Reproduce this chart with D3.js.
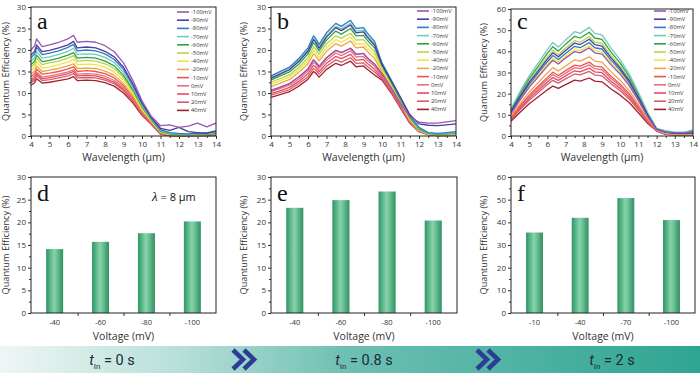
<!DOCTYPE html>
<html>
<head>
<meta charset="utf-8">
<script src="https://cdn.jsdelivr.net/npm/d3@7"></script>
<style>
  body { margin: 0; background: #fff; }
</style>
</head>
<body>
<svg id="chart" width="700" height="377"></svg>
<script>
// bias voltages and the colour of each curve (same order in a, b, c)
const voltages = ["-100mV", "-90mV", "-80mV", "-70mV", "-60mV", "-50mV", "-40mV", "-20mV", "-10mV", "0mV", "10mV", "20mV", "40mV"];
const lineColors = ["#9a55b4", "#4b3d9e", "#2c7cc0", "#6fcac2", "#33a23c", "#b4d450", "#f4e43a", "#f0a44a", "#ea5656", "#e6707c", "#e84a60", "#d1606c", "#a3222e"];

// panel a, t = 0 s
const aWave = [4, 4.2, 4.3, 4.6, 5, 5.5, 6, 6.3, 6.5, 7, 7.5, 8, 8.5, 9, 9.5, 10, 10.5, 11, 11.5, 12, 12.5, 13, 13.5, 14];
const aVals = [
    [20.0, 21.0, 22.6, 20.8, 21.2, 21.8, 22.6, 23.4, 21.8, 22.0, 21.8, 21.0, 19.6, 17.0, 13.0, 8.2, 4.6, 2.4, 2.6, 2.0, 2.3, 3.0, 2.1, 3.0],
    [18.8, 19.7, 21.2, 19.6, 19.9, 20.5, 21.2, 22.0, 20.5, 20.7, 20.5, 19.7, 18.4, 16.0, 12.2, 7.7, 4.3, 1.8, 1.3, 2.0, 1.0, 0.8, 0.7, 1.2],
    [18.2, 19.1, 20.6, 18.9, 19.3, 19.8, 20.6, 21.3, 19.8, 20.0, 19.8, 19.1, 17.8, 15.5, 11.8, 7.5, 4.2, 1.5, 0.8, 0.6, 0.5, 0.7, 0.6, 1.0],
    [17.4, 18.3, 19.7, 18.1, 18.4, 19.0, 19.7, 20.4, 19.0, 19.1, 19.0, 18.3, 17.1, 14.8, 11.3, 7.1, 4.0, 1.3, 0.6, 0.5, 0.4, 0.5, 0.5, 0.8],
    [16.6, 17.4, 18.8, 17.3, 17.6, 18.1, 18.8, 19.4, 18.1, 18.3, 18.1, 17.4, 16.3, 14.1, 10.8, 6.8, 3.8, 1.1, 0.5, 0.4, 0.3, 0.4, 0.4, 0.6],
    [16.0, 16.8, 18.1, 16.6, 17.0, 17.4, 18.1, 18.7, 17.4, 17.6, 17.4, 16.8, 15.7, 13.6, 10.4, 6.6, 3.7, 1.0, 0.4, 0.3, 0.3, 0.3, 0.3, 0.5],
    [15.2, 16.0, 17.2, 15.8, 16.1, 16.6, 17.2, 17.8, 16.6, 16.7, 16.6, 16.0, 14.9, 12.9, 9.9, 6.2, 3.5, 0.9, 0.3, 0.3, 0.2, 0.3, 0.4, 0.9],
    [14.4, 15.1, 16.3, 15.0, 15.3, 15.7, 16.3, 16.8, 15.7, 15.8, 15.7, 15.1, 14.1, 12.2, 9.4, 5.9, 3.3, 0.8, 0.3, 0.2, 0.2, 0.2, 0.3, 0.7],
    [13.8, 14.5, 15.6, 14.4, 14.6, 15.0, 15.6, 16.1, 15.0, 15.2, 15.0, 14.5, 13.5, 11.7, 9.0, 5.7, 3.2, 0.7, 0.2, 0.2, 0.1, 0.2, 0.2, 0.4],
    [13.2, 13.9, 14.9, 13.7, 14.0, 14.4, 14.9, 15.4, 14.4, 14.5, 14.4, 13.9, 12.9, 11.2, 8.6, 5.4, 3.0, 0.6, 0.2, 0.1, 0.1, 0.1, 0.2, 0.3],
    [12.8, 13.4, 14.5, 13.3, 13.6, 14.0, 14.5, 15.0, 14.0, 14.1, 14.0, 13.4, 12.5, 10.9, 8.3, 5.2, 2.9, 0.5, 0.1, 0.1, 0.1, 0.1, 0.1, 0.2],
    [12.4, 13.0, 14.0, 12.9, 13.1, 13.5, 14.0, 14.5, 13.5, 13.6, 13.5, 13.0, 12.2, 10.5, 8.1, 5.1, 2.9, 0.5, 0.1, 0.1, 0.1, 0.1, 0.1, 0.2],
    [11.8, 12.4, 13.3, 12.3, 12.5, 12.9, 13.3, 13.8, 12.9, 13.0, 12.9, 12.4, 11.6, 10.0, 7.7, 4.8, 2.7, 0.4, 0.1, 0.0, 0.0, 0.1, 0.1, 0.1]
];

// panel b, t = 0.8 s
const bWave = [4, 4.4, 5, 5.5, 6, 6.3, 6.4, 6.6, 7, 7.5, 7.8, 8.3, 8.6, 9, 9.2, 9.6, 10, 10.5, 11, 11.5, 12, 12.5, 13, 13.5, 14];
const bVals = [
    [10.6, 11.2, 12.2, 13.7, 15.6, 17.7, 17.3, 16.2, 18.2, 19.9, 19.4, 20.4, 19.0, 19.2, 18.2, 16.7, 14.5, 11.2, 7.6, 4.5, 3.2, 3.0, 3.0, 3.3, 3.6],
    [13.4, 14.2, 15.4, 17.3, 19.7, 22.4, 21.9, 20.4, 23.0, 25.2, 24.5, 25.8, 24.0, 24.2, 23.0, 21.1, 16.6, 12.8, 8.9, 5.0, 2.8, 2.5, 2.4, 2.6, 2.8],
    [14.0, 14.8, 16.0, 18.0, 20.5, 23.3, 22.8, 21.3, 24.0, 26.2, 25.5, 26.9, 25.0, 25.2, 24.0, 22.0, 17.0, 13.0, 9.0, 4.8, 2.0, 0.8, 0.6, 0.8, 1.0],
    [13.7, 14.4, 15.6, 17.6, 20.0, 22.7, 22.2, 20.8, 23.4, 25.5, 24.9, 26.2, 24.4, 24.6, 23.4, 21.5, 16.8, 12.9, 8.8, 4.6, 1.8, 0.7, 0.5, 0.6, 0.8],
    [13.0, 13.8, 14.9, 16.7, 19.1, 21.7, 21.2, 19.8, 22.3, 24.4, 23.7, 25.0, 23.3, 23.4, 22.3, 20.5, 16.4, 12.5, 8.5, 4.3, 1.6, 0.6, 0.4, 0.5, 0.6],
    [12.5, 13.2, 14.2, 16.0, 18.2, 20.7, 20.3, 19.0, 21.4, 23.3, 22.7, 23.9, 22.3, 22.4, 21.4, 19.6, 15.9, 12.1, 8.2, 4.1, 1.5, 0.5, 0.3, 0.4, 0.5],
    [12.0, 12.7, 13.7, 15.4, 17.5, 19.9, 19.5, 18.2, 20.5, 22.4, 21.8, 23.0, 21.4, 21.5, 20.5, 18.8, 15.4, 11.8, 7.9, 3.9, 1.4, 0.5, 0.3, 0.3, 0.4],
    [11.5, 12.1, 13.1, 14.8, 16.8, 19.1, 18.7, 17.5, 19.7, 21.5, 20.9, 22.1, 20.5, 20.7, 19.7, 18.0, 14.9, 11.4, 7.6, 3.7, 1.3, 0.4, 0.2, 0.3, 0.3],
    [10.6, 11.2, 12.2, 13.7, 15.6, 17.7, 17.3, 16.2, 18.2, 19.9, 19.4, 20.4, 19.0, 19.2, 18.2, 16.7, 14.3, 11.0, 7.3, 3.5, 1.2, 0.4, 0.2, 0.2, 0.3],
    [10.3, 10.9, 11.8, 13.2, 15.1, 17.1, 16.8, 15.7, 17.6, 19.3, 18.7, 19.8, 18.4, 18.5, 17.6, 16.2, 13.9, 10.7, 7.1, 3.4, 1.1, 0.4, 0.2, 0.2, 0.2],
    [9.9, 10.4, 11.3, 12.7, 14.5, 16.4, 16.1, 15.0, 16.9, 18.5, 18.0, 19.0, 17.6, 17.8, 16.9, 15.5, 13.6, 10.4, 6.9, 3.2, 1.1, 0.3, 0.1, 0.2, 0.2],
    [9.5, 10.0, 10.8, 12.2, 13.8, 15.7, 15.4, 14.4, 16.2, 17.7, 17.2, 18.2, 16.9, 17.0, 16.2, 14.9, 13.3, 10.2, 6.7, 3.1, 1.0, 0.3, 0.1, 0.1, 0.2],
    [9.0, 9.5, 10.3, 11.6, 13.2, 15.0, 14.7, 13.7, 15.5, 16.9, 16.4, 17.4, 16.1, 16.3, 15.5, 14.2, 13.0, 10.0, 6.5, 3.0, 1.0, 0.3, 0.1, 0.1, 0.2]
];

// panel c, t = 2 s
const cWave = [4, 4.5, 5, 5.5, 6, 6.3, 6.6, 7, 7.5, 7.8, 8.3, 8.6, 9, 9.5, 10, 10.5, 11, 11.5, 12, 12.5, 13, 13.5, 14];
const cVals = [
    [10.5, 17.0, 23.0, 28.0, 33.0, 35.8, 34.0, 36.8, 39.9, 39.3, 41.6, 39.3, 38.7, 33.6, 29.2, 23.7, 16.7, 9.2, 3.0, 1.8, 1.6, 1.5, 2.0],
    [11.6, 18.7, 25.3, 30.8, 36.3, 39.3, 37.4, 40.4, 43.9, 43.2, 45.7, 43.2, 42.5, 36.9, 32.0, 26.1, 18.3, 10.1, 3.2, 1.8, 1.2, 1.2, 1.5],
    [11.2, 18.1, 24.4, 29.8, 35.1, 38.0, 36.1, 39.0, 42.4, 41.7, 44.1, 41.7, 41.1, 35.7, 31.0, 25.2, 17.7, 9.7, 3.1, 1.7, 1.1, 1.0, 1.3],
    [13.0, 21.0, 28.4, 34.6, 40.8, 44.2, 42.0, 45.4, 49.3, 48.5, 51.3, 48.5, 47.8, 41.5, 36.0, 29.3, 20.6, 11.3, 3.6, 2.5, 1.8, 1.8, 2.5],
    [12.4, 20.1, 27.1, 33.0, 39.0, 42.2, 40.1, 43.4, 47.1, 46.3, 49.0, 46.3, 45.6, 39.6, 34.4, 28.0, 19.7, 10.8, 3.4, 2.2, 1.5, 1.6, 2.8],
    [11.9, 19.2, 26.0, 31.7, 37.3, 40.4, 38.4, 41.5, 45.1, 44.4, 46.9, 44.4, 43.7, 38.0, 32.9, 26.8, 18.8, 10.3, 3.3, 2.0, 1.4, 1.3, 1.8],
    [10.8, 17.4, 23.6, 28.7, 33.9, 36.7, 34.9, 37.7, 40.9, 40.3, 42.6, 40.3, 39.7, 34.4, 29.9, 24.3, 17.1, 9.4, 3.0, 1.5, 1.0, 0.9, 1.0],
    [9.5, 15.3, 20.7, 25.3, 29.8, 32.3, 30.7, 33.1, 36.0, 35.4, 37.4, 35.4, 34.9, 30.3, 26.3, 21.4, 15.0, 8.2, 2.9, 1.3, 0.8, 0.7, 0.8],
    [8.8, 14.3, 19.3, 23.5, 27.7, 30.1, 28.6, 30.9, 33.5, 33.0, 34.9, 33.0, 32.5, 28.2, 24.5, 19.9, 14.0, 7.7, 2.8, 1.2, 0.7, 0.6, 0.7],
    [8.5, 13.8, 18.6, 22.7, 26.7, 29.0, 27.5, 29.7, 32.3, 31.8, 33.6, 31.8, 31.3, 27.2, 23.6, 19.2, 13.5, 7.4, 2.7, 1.1, 0.6, 0.5, 0.6],
    [8.1, 13.1, 17.8, 21.6, 25.5, 27.6, 26.3, 28.4, 30.8, 30.3, 32.1, 30.3, 29.9, 25.9, 22.5, 18.3, 12.9, 7.1, 2.6, 1.0, 0.5, 0.4, 0.5],
    [7.7, 12.5, 16.9, 20.6, 24.3, 26.3, 25.0, 27.0, 29.3, 28.9, 30.5, 28.9, 28.4, 24.7, 21.4, 17.4, 12.3, 6.7, 2.5, 0.9, 0.5, 0.4, 0.4],
    [7.0, 11.2, 15.2, 18.5, 21.8, 23.6, 22.5, 24.3, 26.4, 25.9, 27.4, 25.9, 25.6, 22.2, 19.3, 15.7, 11.0, 6.0, 2.3, 0.8, 0.4, 0.3, 0.3]
];

// bar panels d, e, f: QE at 8 um
const dCats = ["-40", "-60", "-80", "-100"];
const dVals = [14.1, 15.7, 17.6, 20.2];
const eCats = ["-40", "-60", "-80", "-100"];
const eVals = [23.2, 24.9, 26.8, 20.4];
const fCats = ["-10", "-40", "-70", "-100"];
const fVals = [35.5, 42.0, 50.7, 41.0];

const stageTimes = ["0 s", "0.8 s", "2 s"];

const svg = d3.select("#chart");
const FONT = "'Open Sans', 'DejaVu Sans', sans-serif";
const SERIF = "'Liberation Serif', 'DejaVu Serif', serif";
const INK = "#333";

const defs = svg.append("defs");
const barGrad = defs.append("linearGradient").attr("id", "barGrad")
    .attr("x1", "0%").attr("x2", "100%").attr("y1", "0%").attr("y2", "0%");
barGrad.append("stop").attr("offset", "0%").attr("stop-color", "#2e9565");
barGrad.append("stop").attr("offset", "45%").attr("stop-color", "#84d2aa");
barGrad.append("stop").attr("offset", "55%").attr("stop-color", "#7ccba2");
barGrad.append("stop").attr("offset", "100%").attr("stop-color", "#2e9162");

function styleAxis(sel) {
    sel.select(".domain").remove();
    sel.selectAll("line").attr("stroke", INK);
    sel.selectAll("text").attr("font-family", FONT).attr("font-size", 8).attr("fill", INK);
}

function box(left, right, top, bottom) {
    svg.append("rect")
        .attr("x", left).attr("y", top)
        .attr("width", right - left).attr("height", bottom - top)
        .attr("fill", "none").attr("stroke", "#222").attr("stroke-width", 1);
}

function yTitle(x, yMid) {
    svg.append("text")
        .attr("transform", `translate(${x},${yMid}) rotate(-90)`)
        .attr("text-anchor", "middle")
        .attr("font-family", FONT).attr("font-size", 9.2).attr("fill", INK)
        .text("Quantum Efficiency (%)");
}

function letter(txt, x, y) {
    svg.append("text").attr("x", x).attr("y", y)
        .attr("font-family", SERIF).attr("font-size", 24).attr("fill", "#111")
        .text(txt);
}

function linePanel(p) {
    const bottom = 136;
    const x = d3.scaleLinear().domain([4, 14]).range([p.left, p.right]);
    const y = d3.scaleLinear().domain([0, p.yMax]).range([bottom, p.top]);

    svg.append("g").attr("transform", `translate(0,${bottom})`)
        .call(d3.axisBottom(x).tickValues(d3.range(4.5, 14, 1)).tickSize(2).tickFormat(""))
        .call(styleAxis);
    svg.append("g").attr("transform", `translate(0,${bottom})`)
        .call(d3.axisBottom(x).tickValues(d3.range(4, 15, 1)).tickSize(3).tickPadding(2))
        .call(styleAxis);
    svg.append("g").attr("transform", `translate(${p.left},0)`)
        .call(d3.axisLeft(y).tickValues(d3.range(p.yStep / 2, p.yMax, p.yStep)).tickSize(2).tickFormat(""))
        .call(styleAxis);
    svg.append("g").attr("transform", `translate(${p.left},0)`)
        .call(d3.axisLeft(y).tickValues(d3.range(0, p.yMax + 1, p.yStep)).tickSize(3).tickPadding(2))
        .call(styleAxis);

    const line = d3.line()
        .x((d, i) => x(p.wave[i]))
        .y(d => y(d));

    svg.append("g").selectAll("path")
        .data(p.vals.map((v, i) => ({ v, i })).reverse())
        .join("path")
        .attr("d", d => line(d.v))
        .attr("fill", "none")
        .attr("stroke", d => lineColors[d.i])
        .attr("stroke-width", 1.3)
        .attr("stroke-linejoin", "round");

    // legend
    const leg = svg.append("g");
    voltages.forEach((v, i) => {
        const ly = p.legTop + i * 8.2;
        leg.append("line")
            .attr("x1", p.right - 39).attr("x2", p.right - 27)
            .attr("y1", ly).attr("y2", ly)
            .attr("stroke", lineColors[i]).attr("stroke-width", 1.6);
        leg.append("text")
            .attr("x", p.right - 25).attr("y", ly + 2)
            .attr("font-family", FONT).attr("font-size", 5.8).attr("fill", INK)
            .text(v);
    });

    box(p.left, p.right, p.top, bottom);
    yTitle(p.titleX, (p.top + bottom) / 2);
    svg.append("text")
        .attr("x", (p.left + p.right) / 2).attr("y", 161)
        .attr("text-anchor", "middle")
        .attr("font-family", FONT).attr("font-size", 10.5).attr("fill", INK)
        .text("Wavelength (\u03bcm)");
    letter(p.letter, p.left + 6, 29);
}

function barPanel(p) {
    const bottom = 313, top = 177;
    const x = d3.scaleBand().domain(p.cats).range([p.left, p.right])
        .paddingInner(0.63).paddingOuter(0.33);
    const y = d3.scaleLinear().domain([0, p.yMax]).range([bottom, top]);

    svg.append("g").selectAll("rect")
        .data(p.vals)
        .join("rect")
        .attr("x", (d, i) => x(p.cats[i]))
        .attr("y", d => y(d))
        .attr("width", x.bandwidth())
        .attr("height", d => bottom - y(d))
        .attr("fill", "url(#barGrad)");

    // ticks between categories, labels under bars
    const bounds = p.cats.slice(1).map(c => x(c) - x.step() * x.paddingInner() / 2);
    svg.append("g").attr("transform", `translate(0,${bottom})`)
        .call(d3.axisBottom(d3.scaleLinear().domain([p.left, p.right]).range([p.left, p.right]))
            .tickValues(bounds).tickSize(3).tickFormat(""))
        .call(styleAxis);
    svg.append("g").attr("transform", `translate(0,${bottom})`)
        .call(d3.axisBottom(x).tickSize(0).tickPadding(7))
        .call(styleAxis)
        .selectAll("text").attr("font-size", 7.5);

    svg.append("g").attr("transform", `translate(${p.left},0)`)
        .call(d3.axisLeft(y).tickValues(d3.range(p.yStep / 2, p.yMax, p.yStep)).tickSize(2).tickFormat(""))
        .call(styleAxis);
    svg.append("g").attr("transform", `translate(${p.left},0)`)
        .call(d3.axisLeft(y).tickValues(d3.range(0, p.yMax + 1, p.yStep)).tickSize(3).tickPadding(2))
        .call(styleAxis);

    box(p.left, p.right, top, bottom);
    yTitle(p.titleX, (top + bottom) / 2);
    svg.append("text")
        .attr("x", (p.left + p.right) / 2).attr("y", 340)
        .attr("text-anchor", "middle")
        .attr("font-family", FONT).attr("font-size", 10.5).attr("fill", INK)
        .text("Voltage (mV)");
    letter(p.letter, p.left + 6, 201);
}

linePanel({ wave: aWave, vals: aVals, left: 31, right: 216, top: 7, yMax: 30, yStep: 5, legTop: 12, titleX: 9, letter: "a" });
linePanel({ wave: bWave, vals: bVals, left: 271, right: 456, top: 7, yMax: 30, yStep: 5, legTop: 11, titleX: 247, letter: "b" });
linePanel({ wave: cWave, vals: cVals, left: 511, right: 693, top: 9, yMax: 60, yStep: 10, legTop: 11, titleX: 487, letter: "c" });

barPanel({ cats: dCats, vals: dVals, left: 31, right: 216, yMax: 30, yStep: 5, titleX: 9, letter: "d" });
barPanel({ cats: eCats, vals: eVals, left: 271, right: 457, yMax: 30, yStep: 5, titleX: 247, letter: "e" });
barPanel({ cats: fCats, vals: fVals, left: 511, right: 695, yMax: 60, yStep: 10, titleX: 487, letter: "f" });

// lambda note in panel d
const lam = svg.append("text").attr("x", 152).attr("y", 201)
    .attr("font-family", FONT).attr("font-size", 11).attr("fill", "#111");
lam.append("tspan").attr("font-style", "italic").attr("font-family", SERIF).attr("font-size", 13).text("\u03bb");
lam.append("tspan").text(" = 8 \u03bcm");

// time banner at the bottom
const bandGrad = defs.append("linearGradient").attr("id", "bandGrad")
    .attr("x1", "0%").attr("x2", "100%").attr("y1", "0%").attr("y2", "0%");
bandGrad.append("stop").attr("offset", "0%").attr("stop-color", "#eef6f5");
bandGrad.append("stop").attr("offset", "25%").attr("stop-color", "#b9e0d9");
bandGrad.append("stop").attr("offset", "50%").attr("stop-color", "#6cbfb1");
bandGrad.append("stop").attr("offset", "100%").attr("stop-color", "#2fa593");

svg.append("rect").attr("x", 0).attr("y", 346).attr("width", 700).attr("height", 27)
    .attr("fill", "url(#bandGrad)");

const stageX = [112, 364, 612];
stageTimes.forEach((t, i) => {
    const tx = svg.append("text").attr("x", stageX[i]).attr("y", 365)
        .attr("text-anchor", "middle")
        .attr("font-family", "'Roboto', 'Open Sans', sans-serif").attr("font-size", 14.5).attr("fill", "#1d2a3a");
    tx.append("tspan").attr("font-style", "italic").text("t");
    tx.append("tspan").attr("font-size", 8).attr("dy", 4).text("In");
    tx.append("tspan").attr("dy", -4).text(" = " + t);
});

const chevronX = [240, 484];
chevronX.forEach(cx => {
    [0, 11].forEach(off => {
        svg.append("path")
            .attr("d", `M${cx + off - 7},350 L${cx + off + 3},359.5 L${cx + off - 7},369`)
            .attr("fill", "none").attr("stroke", "#2d3c96")
            .attr("stroke-width", 4.5).attr("stroke-linejoin", "miter");
    });
});
</script>
</body>
</html>
